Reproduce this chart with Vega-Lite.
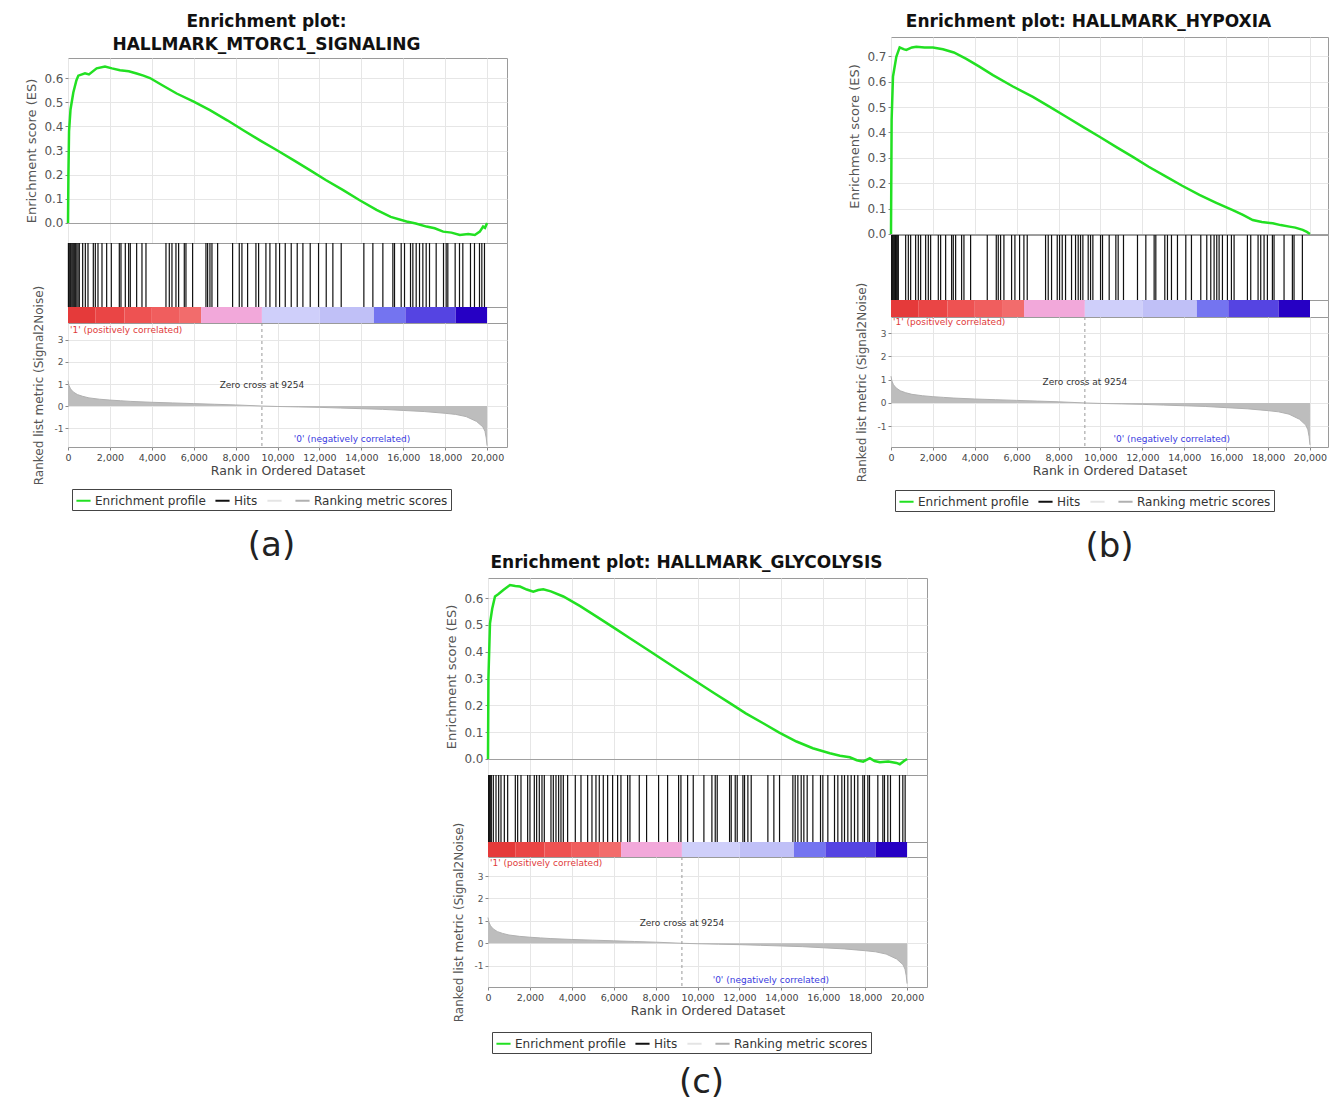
{
  "$schema": "https://vega.github.io/schema/vega-lite/v6.json",
  "background": "white",
  "padding": {"left": 25, "top": 12, "right": 5, "bottom": 5},
  "config": {
    "font": "DejaVu Sans",
    "view": {"stroke": "#9a9a9a", "strokeWidth": 1},
    "axis": {"labelFont": "DejaVu Sans", "titleFont": "DejaVu Sans", "labelColor": "#555", "titleColor": "#555", "titleFontWeight": "normal", "gridColor": "#e6e6e6", "domain": false, "tickColor": "#888", "tickSize": 3, "labelPadding": 2, "labelFlush": false, "labelOverlap": false},
    "title": {"font": "DejaVu Sans", "fontWeight": "bold", "color": "#111"}
  },
  "datasets": {
    "one": [{}],
    "metric": [
      {"rank": 0, "metric": 1.15}, {"rank": 40, "metric": 0.95}, {"rank": 120, "metric": 0.78}, {"rank": 250, "metric": 0.64}, {"rank": 450, "metric": 0.52}, {"rank": 700, "metric": 0.44}, {"rank": 1000, "metric": 0.37}, {"rank": 1500, "metric": 0.31}, {"rank": 2000, "metric": 0.27}, {"rank": 2500, "metric": 0.24}, {"rank": 3000, "metric": 0.21}, {"rank": 4000, "metric": 0.17}, {"rank": 5000, "metric": 0.14}, {"rank": 6000, "metric": 0.11}, {"rank": 7000, "metric": 0.08}, {"rank": 8000, "metric": 0.05}, {"rank": 9254, "metric": 0.0}, {"rank": 10000, "metric": -0.02}, {"rank": 11000, "metric": -0.04}, {"rank": 12000, "metric": -0.06}, {"rank": 13000, "metric": -0.09}, {"rank": 14000, "metric": -0.12}, {"rank": 15000, "metric": -0.15}, {"rank": 16000, "metric": -0.2}, {"rank": 17000, "metric": -0.25}, {"rank": 18000, "metric": -0.33}, {"rank": 18500, "metric": -0.38}, {"rank": 19000, "metric": -0.48}, {"rank": 19500, "metric": -0.7}, {"rank": 19800, "metric": -0.95}, {"rank": 19900, "metric": -1.15}, {"rank": 19960, "metric": -1.45}, {"rank": 20000, "metric": -1.8}
    ],
    "bar": [
      {"s": 0, "e": 1300, "level": "r1"}, {"s": 1300, "e": 2700, "level": "r2"}, {"s": 2700, "e": 4000, "level": "r3"}, {"s": 4000, "e": 5300, "level": "r4"}, {"s": 5300, "e": 6350, "level": "r5"}, {"s": 6350, "e": 9254, "level": "p"}, {"s": 9254, "e": 12000, "level": "l1"}, {"s": 12000, "e": 14600, "level": "l2"}, {"s": 14600, "e": 16100, "level": "b1"}, {"s": 16100, "e": 18500, "level": "b2"}, {"s": 18500, "e": 20000, "level": "b3"}
    ],
    "esA": [
      {"rank": 0, "es": 0}, {"rank": 20, "es": 0.2}, {"rank": 50, "es": 0.38}, {"rank": 120, "es": 0.47}, {"rank": 254, "es": 0.54}, {"rank": 400, "es": 0.59}, {"rank": 493, "es": 0.61}, {"rank": 811, "es": 0.62}, {"rank": 1000, "es": 0.615}, {"rank": 1367, "es": 0.64}, {"rank": 1765, "es": 0.648}, {"rank": 2100, "es": 0.64}, {"rank": 2480, "es": 0.632}, {"rank": 2900, "es": 0.628}, {"rank": 3276, "es": 0.619}, {"rank": 3600, "es": 0.61}, {"rank": 3911, "es": 0.6}, {"rank": 4500, "es": 0.57}, {"rank": 5185, "es": 0.536}, {"rank": 6000, "es": 0.502}, {"rank": 6773, "es": 0.467}, {"rank": 7600, "es": 0.425}, {"rank": 8363, "es": 0.384}, {"rank": 9200, "es": 0.34}, {"rank": 9953, "es": 0.302}, {"rank": 10800, "es": 0.258}, {"rank": 11543, "es": 0.219}, {"rank": 12300, "es": 0.178}, {"rank": 13132, "es": 0.136}, {"rank": 13900, "es": 0.095}, {"rank": 14722, "es": 0.054}, {"rank": 15400, "es": 0.025}, {"rank": 16154, "es": 0.006}, {"rank": 16600, "es": -0.002}, {"rank": 17108, "es": -0.015}, {"rank": 17500, "es": -0.022}, {"rank": 17904, "es": -0.036}, {"rank": 18300, "es": -0.04}, {"rank": 18698, "es": -0.05}, {"rank": 19100, "es": -0.046}, {"rank": 19414, "es": -0.05}, {"rank": 19652, "es": -0.036}, {"rank": 19810, "es": -0.015}, {"rank": 19900, "es": -0.02}, {"rank": 20000, "es": 0.0}
    ],
    "esB": [
      {"rank": 0, "es": 0}, {"rank": 30, "es": 0.45}, {"rank": 95, "es": 0.62}, {"rank": 254, "es": 0.698}, {"rank": 413, "es": 0.735}, {"rank": 600, "es": 0.728}, {"rank": 732, "es": 0.725}, {"rank": 1000, "es": 0.735}, {"rank": 1209, "es": 0.738}, {"rank": 1600, "es": 0.735}, {"rank": 2003, "es": 0.735}, {"rank": 2480, "es": 0.728}, {"rank": 3000, "es": 0.715}, {"rank": 3594, "es": 0.69}, {"rank": 4200, "es": 0.66}, {"rank": 4866, "es": 0.626}, {"rank": 5800, "es": 0.582}, {"rank": 6773, "es": 0.54}, {"rank": 7600, "es": 0.5}, {"rank": 8363, "es": 0.462}, {"rank": 9200, "es": 0.42}, {"rank": 9953, "es": 0.383}, {"rank": 10800, "es": 0.34}, {"rank": 11543, "es": 0.304}, {"rank": 12300, "es": 0.265}, {"rank": 13132, "es": 0.226}, {"rank": 13900, "es": 0.19}, {"rank": 14722, "es": 0.154}, {"rank": 15500, "es": 0.124}, {"rank": 16313, "es": 0.094}, {"rank": 16800, "es": 0.075}, {"rank": 17267, "es": 0.055}, {"rank": 17700, "es": 0.047}, {"rank": 18222, "es": 0.042}, {"rank": 18600, "es": 0.035}, {"rank": 19017, "es": 0.029}, {"rank": 19300, "es": 0.025}, {"rank": 19652, "es": 0.016}, {"rank": 19850, "es": 0.008}, {"rank": 20000, "es": 0.0}
    ],
    "esC": [
      {"rank": 0, "es": 0}, {"rank": 20, "es": 0.3}, {"rank": 95, "es": 0.506}, {"rank": 200, "es": 0.56}, {"rank": 334, "es": 0.606}, {"rank": 500, "es": 0.615}, {"rank": 731, "es": 0.63}, {"rank": 1049, "es": 0.649}, {"rank": 1300, "es": 0.645}, {"rank": 1526, "es": 0.643}, {"rank": 1850, "es": 0.632}, {"rank": 2162, "es": 0.624}, {"rank": 2400, "es": 0.63}, {"rank": 2639, "es": 0.633}, {"rank": 3000, "es": 0.625}, {"rank": 3594, "es": 0.606}, {"rank": 4400, "es": 0.57}, {"rank": 5185, "es": 0.531}, {"rank": 6000, "es": 0.49}, {"rank": 6773, "es": 0.45}, {"rank": 7600, "es": 0.408}, {"rank": 8363, "es": 0.369}, {"rank": 9200, "es": 0.326}, {"rank": 9953, "es": 0.288}, {"rank": 10800, "es": 0.245}, {"rank": 11543, "es": 0.208}, {"rank": 12300, "es": 0.17}, {"rank": 13132, "es": 0.133}, {"rank": 13900, "es": 0.098}, {"rank": 14722, "es": 0.065}, {"rank": 15500, "es": 0.04}, {"rank": 16313, "es": 0.021}, {"rank": 16800, "es": 0.012}, {"rank": 17267, "es": 0.006}, {"rank": 17600, "es": -0.005}, {"rank": 17904, "es": -0.01}, {"rank": 18222, "es": 0.003}, {"rank": 18450, "es": -0.008}, {"rank": 18698, "es": -0.012}, {"rank": 19100, "es": -0.01}, {"rank": 19493, "es": -0.015}, {"rank": 19652, "es": -0.02}, {"rank": 19850, "es": -0.008}, {"rank": 20000, "es": 0.0}
    ],
    "hitsA": [
      {"rank": 20}, {"rank": 60}, {"rank": 110}, {"rank": 150}, {"rank": 200}, {"rank": 250}, {"rank": 300}, {"rank": 350}, {"rank": 420}, {"rank": 480}, {"rank": 540}, {"rank": 700}, {"rank": 827}, {"rank": 954}, {"rank": 1208}, {"rank": 1304}, {"rank": 1431}, {"rank": 1622}, {"rank": 1845}, {"rank": 2067}, {"rank": 2449}, {"rank": 2528}, {"rank": 2735}, {"rank": 2894}, {"rank": 2973}, {"rank": 3276}, {"rank": 3530}, {"rank": 3721}, {"rank": 4675}, {"rank": 4834}, {"rank": 4961}, {"rank": 5152}, {"rank": 5279}, {"rank": 5550}, {"rank": 5629}, {"rank": 5947}, {"rank": 6583}, {"rank": 6663}, {"rank": 6774}, {"rank": 6870}, {"rank": 7140}, {"rank": 7855}, {"rank": 8173}, {"rank": 8300}, {"rank": 8571}, {"rank": 8968}, {"rank": 9096}, {"rank": 9445}, {"rank": 9636}, {"rank": 9922}, {"rank": 10097}, {"rank": 10367}, {"rank": 10653}, {"rank": 10939}, {"rank": 11210}, {"rank": 11559}, {"rank": 11957}, {"rank": 12323}, {"rank": 12640}, {"rank": 13038}, {"rank": 14119}, {"rank": 14549}, {"rank": 15026}, {"rank": 15503}, {"rank": 15582}, {"rank": 15900}, {"rank": 16059}, {"rank": 16345}, {"rank": 16457}, {"rank": 16616}, {"rank": 16775}, {"rank": 16934}, {"rank": 17093}, {"rank": 17252}, {"rank": 17570}, {"rank": 17920}, {"rank": 18047}, {"rank": 18126}, {"rank": 18476}, {"rank": 18683}, {"rank": 18842}, {"rank": 19207}, {"rank": 19398}, {"rank": 19637}, {"rank": 19749}, {"rank": 19875}
    ],
    "hitsB": [
      {"rank": 30}, {"rank": 64}, {"rank": 110}, {"rank": 159}, {"rank": 210}, {"rank": 254}, {"rank": 300}, {"rank": 350}, {"rank": 700}, {"rank": 827}, {"rank": 938}, {"rank": 1176}, {"rank": 1304}, {"rank": 1415}, {"rank": 1654}, {"rank": 1781}, {"rank": 1892}, {"rank": 2258}, {"rank": 2369}, {"rank": 2608}, {"rank": 2894}, {"rank": 2973}, {"rank": 3085}, {"rank": 3371}, {"rank": 3482}, {"rank": 3800}, {"rank": 4595}, {"rank": 5025}, {"rank": 5120}, {"rank": 5231}, {"rank": 5390}, {"rank": 5756}, {"rank": 5915}, {"rank": 6138}, {"rank": 6344}, {"rank": 6503}, {"rank": 7378}, {"rank": 7505}, {"rank": 7664}, {"rank": 7935}, {"rank": 8046}, {"rank": 8173}, {"rank": 8332}, {"rank": 8618}, {"rank": 8809}, {"rank": 8936}, {"rank": 9048}, {"rank": 9159}, {"rank": 9413}, {"rank": 9525}, {"rank": 9636}, {"rank": 10002}, {"rank": 10097}, {"rank": 10415}, {"rank": 10733}, {"rank": 10844}, {"rank": 11098}, {"rank": 11766}, {"rank": 12164}, {"rank": 12561}, {"rank": 12641}, {"rank": 13070}, {"rank": 13197}, {"rank": 13388}, {"rank": 13674}, {"rank": 14072}, {"rank": 14342}, {"rank": 14787}, {"rank": 15073}, {"rank": 15264}, {"rank": 15423}, {"rank": 15550}, {"rank": 15662}, {"rank": 15821}, {"rank": 16059}, {"rank": 16250}, {"rank": 16377}, {"rank": 17013}, {"rank": 17172}, {"rank": 17522}, {"rank": 17649}, {"rank": 17808}, {"rank": 17967}, {"rank": 18206}, {"rank": 18285}, {"rank": 18762}, {"rank": 19160}, {"rank": 19239}, {"rank": 19637}
    ],
    "hitsC": [
      {"rank": 30}, {"rank": 64}, {"rank": 110}, {"rank": 159}, {"rank": 254}, {"rank": 382}, {"rank": 509}, {"rank": 620}, {"rank": 779}, {"rank": 938}, {"rank": 1304}, {"rank": 1415}, {"rank": 1574}, {"rank": 1892}, {"rank": 2003}, {"rank": 2210}, {"rank": 2321}, {"rank": 2449}, {"rank": 2576}, {"rank": 2687}, {"rank": 3005}, {"rank": 3117}, {"rank": 3244}, {"rank": 3371}, {"rank": 3482}, {"rank": 3594}, {"rank": 3800}, {"rank": 4166}, {"rank": 4437}, {"rank": 4755}, {"rank": 4961}, {"rank": 5152}, {"rank": 5311}, {"rank": 5502}, {"rank": 5709}, {"rank": 5947}, {"rank": 6185}, {"rank": 6344}, {"rank": 6662}, {"rank": 6774}, {"rank": 7219}, {"rank": 7568}, {"rank": 8141}, {"rank": 8571}, {"rank": 9096}, {"rank": 9207}, {"rank": 9525}, {"rank": 9795}, {"rank": 10303}, {"rank": 10685}, {"rank": 10844}, {"rank": 10939}, {"rank": 11528}, {"rank": 11607}, {"rank": 11798}, {"rank": 11893}, {"rank": 12164}, {"rank": 12243}, {"rank": 12402}, {"rank": 12561}, {"rank": 13356}, {"rank": 13642}, {"rank": 13913}, {"rank": 14549}, {"rank": 14660}, {"rank": 14787}, {"rank": 14946}, {"rank": 15073}, {"rank": 15232}, {"rank": 15503}, {"rank": 15868}, {"rank": 15980}, {"rank": 16218}, {"rank": 16536}, {"rank": 16695}, {"rank": 16886}, {"rank": 17013}, {"rank": 17172}, {"rank": 17331}, {"rank": 17490}, {"rank": 17649}, {"rank": 17888}, {"rank": 17967}, {"rank": 18126}, {"rank": 18206}, {"rank": 18603}, {"rank": 18842}, {"rank": 18921}, {"rank": 19080}, {"rank": 19207}, {"rank": 19637}, {"rank": 19796}, {"rank": 19907}
    ]
  },
  "spacing": -11,
  "resolve": {"scale": {"x": "independent", "y": "independent", "color": "independent"}, "legend": {"color": "independent"}},
  "vconcat": [
    {
      "spacing": 340,
      "resolve": {"scale": {"x": "independent", "y": "independent", "color": "independent"}, "legend": {"color": "independent"}},
      "hconcat": [
        {
          "spacing": 0,
          "bounds": "flush",
          "resolve": {"scale": {"x": "independent", "y": "independent", "color": "independent"}, "legend": {"color": "independent"}},
          "vconcat": [
            {
              "width": 439, "height": 21,
              "data": {"name": "one"},
              "view": {"stroke": null},
              "mark": {"type": "text", "text": ""}
            },
            {
              "width": 439, "height": 185,
              "title": {"text": ["Enrichment plot:", "HALLMARK_MTORC1_SIGNALING"], "frame": "bounds", "anchor": "middle", "fontSize": 17, "lineHeight": 23, "offset": 4},
              "data": {"name": "esA"},
              "mark": {"type": "line", "color": "#22e022", "strokeWidth": 2.5},
              "encoding": {
                "x": {"field": "rank", "type": "quantitative", "scale": {"domain": [0, 20950], "nice": false, "zero": false}, "axis": {"values": [0, 2000, 4000, 6000, 8000, 10000, 12000, 14000, 16000, 18000, 20000], "labels": false, "ticks": false, "title": null, "grid": true}},
                "y": {"field": "es", "type": "quantitative", "scale": {"domain": [-0.083, 0.683], "nice": false, "zero": false}, "axis": {"values": [0, 0.1, 0.2, 0.3, 0.4, 0.5, 0.6], "format": ".1f", "title": "Enrichment score (ES)", "titleFontSize": 13, "labelFontSize": 12, "titlePadding": 5, "grid": true, "gridColor": {"condition": {"test": "datum.value === 0", "value": "#a0a0a0"}, "value": "#e6e6e6"}}}
              }
            },
            {
              "width": 439, "height": 64,
              "data": {"name": "hitsA"},
              "mark": {"type": "rule", "color": "#111", "strokeWidth": 1.2},
              "encoding": {"x": {"field": "rank", "type": "quantitative", "scale": {"domain": [0, 20950], "nice": false, "zero": false}, "axis": null}}
            },
            {
              "width": 439, "height": 16,
              "data": {"name": "bar"},
              "mark": {"type": "rect"},
              "encoding": {
                "x": {"field": "s", "type": "quantitative", "scale": {"domain": [0, 20950], "nice": false, "zero": false}, "axis": null},
                "x2": {"field": "e"},
                "color": {"field": "level", "type": "nominal", "scale": {"domain": ["r1", "r2", "r3", "r4", "r5", "p", "l1", "l2", "b1", "b2", "b3"], "range": ["#e53a3a", "#ea4545", "#ee5252", "#f05e5e", "#f26c6c", "#f2a8da", "#cfcffa", "#c0c0f7", "#7474f0", "#5544e2", "#2600c4"]}, "legend": null}
              }
            },
            {
              "width": 439, "height": 124,
              "title": {"text": "(a)", "orient": "bottom", "frame": "bounds", "anchor": "middle", "fontSize": 34, "fontWeight": "normal", "offset": 18, "color": "#222", "dx": 2},
              "layer": [
                {
                  "data": {"name": "metric"},
                  "mark": {"type": "area", "color": "#bdbdbd"},
                  "encoding": {
                    "x": {"field": "rank", "type": "quantitative", "scale": {"domain": [0, 20950], "nice": false, "zero": false}, "axis": {"values": [0, 2000, 4000, 6000, 8000, 10000, 12000, 14000, 16000, 18000, 20000], "format": ",d", "title": "Rank in Ordered Dataset", "labelFontSize": 9.5, "titleFontSize": 12.5, "titlePadding": 3, "grid": true, "labelColor": "#444", "titleColor": "#444"}},
                    "y": {"field": "metric", "type": "quantitative", "scale": {"domain": [-1.86, 3.77], "nice": false, "zero": false}, "axis": {"values": [-1, 0, 1, 2, 3], "labelExpr": "datum.value < 0 ? '-1' : datum.label", "title": "Ranked list metric (Signal2Noise)", "titleFontSize": 12, "labelFontSize": 9, "titlePadding": 9, "grid": true}}
                  }
                },
                {
                  "data": {"name": "metric"},
                  "mark": {"type": "line", "strokeWidth": 1},
                  "encoding": {
                    "x": {"field": "rank", "type": "quantitative", "axis": {"values": [0, 2000, 4000, 6000, 8000, 10000, 12000, 14000, 16000, 18000, 20000], "format": ",d", "title": "Rank in Ordered Dataset", "labelFontSize": 9.5, "titleFontSize": 12.5, "titlePadding": 3, "grid": true, "labelColor": "#444", "titleColor": "#444"}},
                    "y": {"field": "metric", "type": "quantitative", "axis": {"values": [-1, 0, 1, 2, 3], "labelExpr": "datum.value < 0 ? '-1' : datum.label", "title": "Ranked list metric (Signal2Noise)", "titleFontSize": 12, "labelFontSize": 9, "titlePadding": 9, "grid": true}},
                    "color": {"datum": "Ranking metric scores", "type": "nominal", "scale": {"domain": ["Enrichment profile", "Hits", " ", "Ranking metric scores"], "range": ["#22e022", "#111111", "#e4e4e4", "#b0b0b0"]}, "legend": {"orient": "none", "legendX": 4, "legendY": 166, "direction": "horizontal", "columns": 4, "title": null, "symbolType": "stroke", "symbolStrokeWidth": 2, "symbolSize": 200, "labelFontSize": 12, "labelColor": "#333", "labelFont": "DejaVu Sans", "strokeColor": "#444", "fillColor": "white", "padding": 3, "columnPadding": 5, "labelOffset": 3, "labelLimit": 300}}
                  }
                },
                {
                  "data": {"name": "one"},
                  "mark": {"type": "rule", "strokeDash": [3, 3], "color": "#999", "strokeWidth": 1},
                  "encoding": {"x": {"datum": 9254, "type": "quantitative", "axis": {"values": [0, 2000, 4000, 6000, 8000, 10000, 12000, 14000, 16000, 18000, 20000], "format": ",d", "title": "Rank in Ordered Dataset", "labelFontSize": 9.5, "titleFontSize": 12.5, "titlePadding": 3, "grid": true, "labelColor": "#444", "titleColor": "#444"}}}
                },
                {
                  "data": {"name": "one"},
                  "mark": {"type": "text", "text": "Zero cross at 9254", "fontSize": 9, "color": "#333", "align": "center"},
                  "encoding": {"x": {"datum": 9254, "type": "quantitative", "axis": {"values": [0, 2000, 4000, 6000, 8000, 10000, 12000, 14000, 16000, 18000, 20000], "format": ",d", "title": "Rank in Ordered Dataset", "labelFontSize": 9.5, "titleFontSize": 12.5, "titlePadding": 3, "grid": true, "labelColor": "#444", "titleColor": "#444"}}, "y": {"datum": 0.95, "type": "quantitative", "axis": {"values": [-1, 0, 1, 2, 3], "labelExpr": "datum.value < 0 ? '-1' : datum.label", "title": "Ranked list metric (Signal2Noise)", "titleFontSize": 12, "labelFontSize": 9, "titlePadding": 9, "grid": true}}}
                },
                {
                  "data": {"name": "one"},
                  "mark": {"type": "text", "text": "'1' (positively correlated)", "fontSize": 9, "color": "#e03a3a", "align": "left", "dx": 2},
                  "encoding": {"x": {"datum": 0, "type": "quantitative", "axis": {"values": [0, 2000, 4000, 6000, 8000, 10000, 12000, 14000, 16000, 18000, 20000], "format": ",d", "title": "Rank in Ordered Dataset", "labelFontSize": 9.5, "titleFontSize": 12.5, "titlePadding": 3, "grid": true, "labelColor": "#444", "titleColor": "#444"}}, "y": {"datum": 3.45, "type": "quantitative", "axis": {"values": [-1, 0, 1, 2, 3], "labelExpr": "datum.value < 0 ? '-1' : datum.label", "title": "Ranked list metric (Signal2Noise)", "titleFontSize": 12, "labelFontSize": 9, "titlePadding": 9, "grid": true}}}
                },
                {
                  "data": {"name": "one"},
                  "mark": {"type": "text", "text": "'0' (negatively correlated)", "fontSize": 9, "color": "#3a3ae0", "align": "center"},
                  "encoding": {"x": {"datum": 13550, "type": "quantitative", "axis": {"values": [0, 2000, 4000, 6000, 8000, 10000, 12000, 14000, 16000, 18000, 20000], "format": ",d", "title": "Rank in Ordered Dataset", "labelFontSize": 9.5, "titleFontSize": 12.5, "titlePadding": 3, "grid": true, "labelColor": "#444", "titleColor": "#444"}}, "y": {"datum": -1.5, "type": "quantitative", "axis": {"values": [-1, 0, 1, 2, 3], "labelExpr": "datum.value < 0 ? '-1' : datum.label", "title": "Ranked list metric (Signal2Noise)", "titleFontSize": 12, "labelFontSize": 9, "titlePadding": 9, "grid": true}}}
                }
              ]
            }
          ]
        },
        {
          "spacing": 0,
          "bounds": "flush",
          "resolve": {"scale": {"x": "independent", "y": "independent", "color": "independent"}, "legend": {"color": "independent"}},
          "vconcat": [
            {
              "width": 437, "height": 198,
              "title": {"text": "Enrichment plot: HALLMARK_HYPOXIA", "frame": "bounds", "anchor": "middle", "fontSize": 17, "offset": 6},
              "data": {"name": "esB"},
              "mark": {"type": "line", "color": "#22e022", "strokeWidth": 2.5},
              "encoding": {
                "x": {"field": "rank", "type": "quantitative", "scale": {"domain": [0, 20860], "nice": false, "zero": false}, "axis": {"values": [0, 2000, 4000, 6000, 8000, 10000, 12000, 14000, 16000, 18000, 20000], "labels": false, "ticks": false, "title": null, "grid": true}},
                "y": {"field": "es", "type": "quantitative", "scale": {"domain": [-0.004, 0.776], "nice": false, "zero": false}, "axis": {"values": [0, 0.1, 0.2, 0.3, 0.4, 0.5, 0.6, 0.7], "format": ".1f", "title": "Enrichment score (ES)", "titleFontSize": 13, "labelFontSize": 12, "titlePadding": 5, "grid": true, "gridColor": {"condition": {"test": "datum.value === 0", "value": "#a0a0a0"}, "value": "#e6e6e6"}}}
              }
            },
            {
              "width": 437, "height": 65,
              "data": {"name": "hitsB"},
              "mark": {"type": "rule", "color": "#111", "strokeWidth": 1.2},
              "encoding": {"x": {"field": "rank", "type": "quantitative", "scale": {"domain": [0, 20860], "nice": false, "zero": false}, "axis": null}}
            },
            {
              "width": 437, "height": 17,
              "data": {"name": "bar"},
              "mark": {"type": "rect"},
              "encoding": {
                "x": {"field": "s", "type": "quantitative", "scale": {"domain": [0, 20860], "nice": false, "zero": false}, "axis": null},
                "x2": {"field": "e"},
                "color": {"field": "level", "type": "nominal", "scale": {"domain": ["r1", "r2", "r3", "r4", "r5", "p", "l1", "l2", "b1", "b2", "b3"], "range": ["#e53a3a", "#ea4545", "#ee5252", "#f05e5e", "#f26c6c", "#f2a8da", "#cfcffa", "#c0c0f7", "#7474f0", "#5544e2", "#2600c4"]}, "legend": null}
              }
            },
            {
              "width": 437, "height": 130,
              "title": {"text": "(b)", "orient": "bottom", "frame": "bounds", "anchor": "middle", "fontSize": 34, "fontWeight": "normal", "offset": 18, "color": "#222", "dx": 18},
              "layer": [
                {
                  "data": {"name": "metric"},
                  "mark": {"type": "area", "color": "#bdbdbd"},
                  "encoding": {
                    "x": {"field": "rank", "type": "quantitative", "scale": {"domain": [0, 20860], "nice": false, "zero": false}, "axis": {"values": [0, 2000, 4000, 6000, 8000, 10000, 12000, 14000, 16000, 18000, 20000], "format": ",d", "title": "Rank in Ordered Dataset", "labelFontSize": 9.5, "titleFontSize": 12.5, "titlePadding": 3, "grid": true, "labelColor": "#444", "titleColor": "#444"}},
                    "y": {"field": "metric", "type": "quantitative", "scale": {"domain": [-1.89, 3.69], "nice": false, "zero": false}, "axis": {"values": [-1, 0, 1, 2, 3], "labelExpr": "datum.value < 0 ? '-1' : datum.label", "title": "Ranked list metric (Signal2Noise)", "titleFontSize": 12, "labelFontSize": 9, "titlePadding": 9, "grid": true}}
                  }
                },
                {
                  "data": {"name": "metric"},
                  "mark": {"type": "line", "strokeWidth": 1},
                  "encoding": {
                    "x": {"field": "rank", "type": "quantitative", "axis": {"values": [0, 2000, 4000, 6000, 8000, 10000, 12000, 14000, 16000, 18000, 20000], "format": ",d", "title": "Rank in Ordered Dataset", "labelFontSize": 9.5, "titleFontSize": 12.5, "titlePadding": 3, "grid": true, "labelColor": "#444", "titleColor": "#444"}},
                    "y": {"field": "metric", "type": "quantitative", "axis": {"values": [-1, 0, 1, 2, 3], "labelExpr": "datum.value < 0 ? '-1' : datum.label", "title": "Ranked list metric (Signal2Noise)", "titleFontSize": 12, "labelFontSize": 9, "titlePadding": 9, "grid": true}},
                    "color": {"datum": "Ranking metric scores", "type": "nominal", "scale": {"domain": ["Enrichment profile", "Hits", " ", "Ranking metric scores"], "range": ["#22e022", "#111111", "#e4e4e4", "#b0b0b0"]}, "legend": {"orient": "none", "legendX": 4, "legendY": 173, "direction": "horizontal", "columns": 4, "title": null, "symbolType": "stroke", "symbolStrokeWidth": 2, "symbolSize": 200, "labelFontSize": 12, "labelColor": "#333", "labelFont": "DejaVu Sans", "strokeColor": "#444", "fillColor": "white", "padding": 3, "columnPadding": 5, "labelOffset": 3, "labelLimit": 300}}
                  }
                },
                {
                  "data": {"name": "one"},
                  "mark": {"type": "rule", "strokeDash": [3, 3], "color": "#999", "strokeWidth": 1},
                  "encoding": {"x": {"datum": 9254, "type": "quantitative", "axis": {"values": [0, 2000, 4000, 6000, 8000, 10000, 12000, 14000, 16000, 18000, 20000], "format": ",d", "title": "Rank in Ordered Dataset", "labelFontSize": 9.5, "titleFontSize": 12.5, "titlePadding": 3, "grid": true, "labelColor": "#444", "titleColor": "#444"}}}
                },
                {
                  "data": {"name": "one"},
                  "mark": {"type": "text", "text": "Zero cross at 9254", "fontSize": 9, "color": "#333", "align": "center"},
                  "encoding": {"x": {"datum": 9254, "type": "quantitative", "axis": {"values": [0, 2000, 4000, 6000, 8000, 10000, 12000, 14000, 16000, 18000, 20000], "format": ",d", "title": "Rank in Ordered Dataset", "labelFontSize": 9.5, "titleFontSize": 12.5, "titlePadding": 3, "grid": true, "labelColor": "#444", "titleColor": "#444"}}, "y": {"datum": 0.9, "type": "quantitative", "axis": {"values": [-1, 0, 1, 2, 3], "labelExpr": "datum.value < 0 ? '-1' : datum.label", "title": "Ranked list metric (Signal2Noise)", "titleFontSize": 12, "labelFontSize": 9, "titlePadding": 9, "grid": true}}}
                },
                {
                  "data": {"name": "one"},
                  "mark": {"type": "text", "text": "'1' (positively correlated)", "fontSize": 9, "color": "#e03a3a", "align": "left", "dx": 2},
                  "encoding": {"x": {"datum": 0, "type": "quantitative", "axis": {"values": [0, 2000, 4000, 6000, 8000, 10000, 12000, 14000, 16000, 18000, 20000], "format": ",d", "title": "Rank in Ordered Dataset", "labelFontSize": 9.5, "titleFontSize": 12.5, "titlePadding": 3, "grid": true, "labelColor": "#444", "titleColor": "#444"}}, "y": {"datum": 3.48, "type": "quantitative", "axis": {"values": [-1, 0, 1, 2, 3], "labelExpr": "datum.value < 0 ? '-1' : datum.label", "title": "Ranked list metric (Signal2Noise)", "titleFontSize": 12, "labelFontSize": 9, "titlePadding": 9, "grid": true}}}
                },
                {
                  "data": {"name": "one"},
                  "mark": {"type": "text", "text": "'0' (negatively correlated)", "fontSize": 9, "color": "#3a3ae0", "align": "center"},
                  "encoding": {"x": {"datum": 13400, "type": "quantitative", "axis": {"values": [0, 2000, 4000, 6000, 8000, 10000, 12000, 14000, 16000, 18000, 20000], "format": ",d", "title": "Rank in Ordered Dataset", "labelFontSize": 9.5, "titleFontSize": 12.5, "titlePadding": 3, "grid": true, "labelColor": "#444", "titleColor": "#444"}}, "y": {"datum": -1.55, "type": "quantitative", "axis": {"values": [-1, 0, 1, 2, 3], "labelExpr": "datum.value < 0 ? '-1' : datum.label", "title": "Ranked list metric (Signal2Noise)", "titleFontSize": 12, "labelFontSize": 9, "titlePadding": 9, "grid": true}}}
                }
              ]
            }
          ]
        }
      ]
    },
    {
      "spacing": 0,
      "resolve": {"scale": {"x": "independent", "y": "independent", "color": "independent"}, "legend": {"color": "independent"}},
      "hconcat": [
        {
          "width": 377, "height": 1,
          "data": {"name": "one"},
          "view": {"stroke": null},
          "mark": {"type": "text", "text": ""}
        },
        {
          "spacing": 0,
          "bounds": "flush",
          "resolve": {"scale": {"x": "independent", "y": "independent", "color": "independent"}, "legend": {"color": "independent"}},
          "vconcat": [
            {
              "width": 439, "height": 197,
              "title": {"text": "Enrichment plot: HALLMARK_GLYCOLYSIS", "frame": "bounds", "anchor": "middle", "fontSize": 17, "offset": 6},
              "data": {"name": "esC"},
              "mark": {"type": "line", "color": "#22e022", "strokeWidth": 2.5},
              "encoding": {
                "x": {"field": "rank", "type": "quantitative", "scale": {"domain": [0, 20950], "nice": false, "zero": false}, "axis": {"values": [0, 2000, 4000, 6000, 8000, 10000, 12000, 14000, 16000, 18000, 20000], "labels": false, "ticks": false, "title": null, "grid": true}},
                "y": {"field": "es", "type": "quantitative", "scale": {"domain": [-0.06, 0.675], "nice": false, "zero": false}, "axis": {"values": [0, 0.1, 0.2, 0.3, 0.4, 0.5, 0.6], "format": ".1f", "title": "Enrichment score (ES)", "titleFontSize": 13, "labelFontSize": 12, "titlePadding": 5, "grid": true, "gridColor": {"condition": {"test": "datum.value === 0", "value": "#a0a0a0"}, "value": "#e6e6e6"}}}
              }
            },
            {
              "width": 439, "height": 67,
              "data": {"name": "hitsC"},
              "mark": {"type": "rule", "color": "#111", "strokeWidth": 1.2},
              "encoding": {"x": {"field": "rank", "type": "quantitative", "scale": {"domain": [0, 20950], "nice": false, "zero": false}, "axis": null}}
            },
            {
              "width": 439, "height": 15,
              "data": {"name": "bar"},
              "mark": {"type": "rect"},
              "encoding": {
                "x": {"field": "s", "type": "quantitative", "scale": {"domain": [0, 20950], "nice": false, "zero": false}, "axis": null},
                "x2": {"field": "e"},
                "color": {"field": "level", "type": "nominal", "scale": {"domain": ["r1", "r2", "r3", "r4", "r5", "p", "l1", "l2", "b1", "b2", "b3"], "range": ["#e53a3a", "#ea4545", "#ee5252", "#f05e5e", "#f26c6c", "#f2a8da", "#cfcffa", "#c0c0f7", "#7474f0", "#5544e2", "#2600c4"]}, "legend": null}
              }
            },
            {
              "width": 439, "height": 130,
              "title": {"text": "(c)", "orient": "bottom", "frame": "bounds", "anchor": "middle", "fontSize": 34, "fontWeight": "normal", "offset": 12, "color": "#222", "dx": 12},
              "layer": [
                {
                  "data": {"name": "metric"},
                  "mark": {"type": "area", "color": "#bdbdbd"},
                  "encoding": {
                    "x": {"field": "rank", "type": "quantitative", "scale": {"domain": [0, 20950], "nice": false, "zero": false}, "axis": {"values": [0, 2000, 4000, 6000, 8000, 10000, 12000, 14000, 16000, 18000, 20000], "format": ",d", "title": "Rank in Ordered Dataset", "labelFontSize": 9.5, "titleFontSize": 12.5, "titlePadding": 3, "grid": true, "labelColor": "#444", "titleColor": "#444"}},
                    "y": {"field": "metric", "type": "quantitative", "scale": {"domain": [-1.95, 3.85], "nice": false, "zero": false}, "axis": {"values": [-1, 0, 1, 2, 3], "labelExpr": "datum.value < 0 ? '-1' : datum.label", "title": "Ranked list metric (Signal2Noise)", "titleFontSize": 12, "labelFontSize": 9, "titlePadding": 9, "grid": true}}
                  }
                },
                {
                  "data": {"name": "metric"},
                  "mark": {"type": "line", "strokeWidth": 1},
                  "encoding": {
                    "x": {"field": "rank", "type": "quantitative", "axis": {"values": [0, 2000, 4000, 6000, 8000, 10000, 12000, 14000, 16000, 18000, 20000], "format": ",d", "title": "Rank in Ordered Dataset", "labelFontSize": 9.5, "titleFontSize": 12.5, "titlePadding": 3, "grid": true, "labelColor": "#444", "titleColor": "#444"}},
                    "y": {"field": "metric", "type": "quantitative", "axis": {"values": [-1, 0, 1, 2, 3], "labelExpr": "datum.value < 0 ? '-1' : datum.label", "title": "Ranked list metric (Signal2Noise)", "titleFontSize": 12, "labelFontSize": 9, "titlePadding": 9, "grid": true}},
                    "color": {"datum": "Ranking metric scores", "type": "nominal", "scale": {"domain": ["Enrichment profile", "Hits", " ", "Ranking metric scores"], "range": ["#22e022", "#111111", "#e4e4e4", "#b0b0b0"]}, "legend": {"orient": "none", "legendX": 4, "legendY": 175, "direction": "horizontal", "columns": 4, "title": null, "symbolType": "stroke", "symbolStrokeWidth": 2, "symbolSize": 200, "labelFontSize": 12, "labelColor": "#333", "labelFont": "DejaVu Sans", "strokeColor": "#444", "fillColor": "white", "padding": 3, "columnPadding": 5, "labelOffset": 3, "labelLimit": 300}}
                  }
                },
                {
                  "data": {"name": "one"},
                  "mark": {"type": "rule", "strokeDash": [3, 3], "color": "#999", "strokeWidth": 1},
                  "encoding": {"x": {"datum": 9254, "type": "quantitative", "axis": {"values": [0, 2000, 4000, 6000, 8000, 10000, 12000, 14000, 16000, 18000, 20000], "format": ",d", "title": "Rank in Ordered Dataset", "labelFontSize": 9.5, "titleFontSize": 12.5, "titlePadding": 3, "grid": true, "labelColor": "#444", "titleColor": "#444"}}}
                },
                {
                  "data": {"name": "one"},
                  "mark": {"type": "text", "text": "Zero cross at 9254", "fontSize": 9, "color": "#333", "align": "center"},
                  "encoding": {"x": {"datum": 9254, "type": "quantitative", "axis": {"values": [0, 2000, 4000, 6000, 8000, 10000, 12000, 14000, 16000, 18000, 20000], "format": ",d", "title": "Rank in Ordered Dataset", "labelFontSize": 9.5, "titleFontSize": 12.5, "titlePadding": 3, "grid": true, "labelColor": "#444", "titleColor": "#444"}}, "y": {"datum": 0.9, "type": "quantitative", "axis": {"values": [-1, 0, 1, 2, 3], "labelExpr": "datum.value < 0 ? '-1' : datum.label", "title": "Ranked list metric (Signal2Noise)", "titleFontSize": 12, "labelFontSize": 9, "titlePadding": 9, "grid": true}}}
                },
                {
                  "data": {"name": "one"},
                  "mark": {"type": "text", "text": "'1' (positively correlated)", "fontSize": 9, "color": "#e03a3a", "align": "left", "dx": 2},
                  "encoding": {"x": {"datum": 0, "type": "quantitative", "axis": {"values": [0, 2000, 4000, 6000, 8000, 10000, 12000, 14000, 16000, 18000, 20000], "format": ",d", "title": "Rank in Ordered Dataset", "labelFontSize": 9.5, "titleFontSize": 12.5, "titlePadding": 3, "grid": true, "labelColor": "#444", "titleColor": "#444"}}, "y": {"datum": 3.6, "type": "quantitative", "axis": {"values": [-1, 0, 1, 2, 3], "labelExpr": "datum.value < 0 ? '-1' : datum.label", "title": "Ranked list metric (Signal2Noise)", "titleFontSize": 12, "labelFontSize": 9, "titlePadding": 9, "grid": true}}}
                },
                {
                  "data": {"name": "one"},
                  "mark": {"type": "text", "text": "'0' (negatively correlated)", "fontSize": 9, "color": "#3a3ae0", "align": "center"},
                  "encoding": {"x": {"datum": 13500, "type": "quantitative", "axis": {"values": [0, 2000, 4000, 6000, 8000, 10000, 12000, 14000, 16000, 18000, 20000], "format": ",d", "title": "Rank in Ordered Dataset", "labelFontSize": 9.5, "titleFontSize": 12.5, "titlePadding": 3, "grid": true, "labelColor": "#444", "titleColor": "#444"}}, "y": {"datum": -1.65, "type": "quantitative", "axis": {"values": [-1, 0, 1, 2, 3], "labelExpr": "datum.value < 0 ? '-1' : datum.label", "title": "Ranked list metric (Signal2Noise)", "titleFontSize": 12, "labelFontSize": 9, "titlePadding": 9, "grid": true}}}
                }
              ]
            }
          ]
        }
      ]
    }
  ]
}
